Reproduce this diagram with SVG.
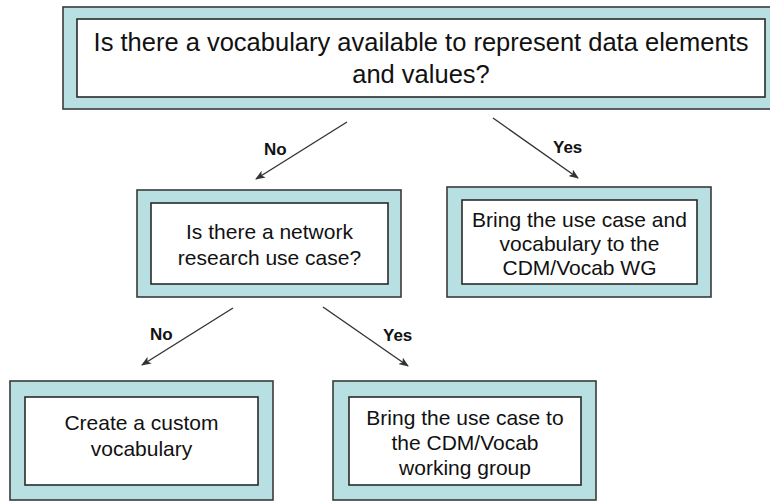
<svg xmlns="http://www.w3.org/2000/svg" width="770" height="502" viewBox="0 0 770 502">
<defs>
<style>
.outer{fill:#b8dfe1;stroke:#3a3a3a;stroke-width:1.6}
.inner{fill:#ffffff;stroke:#2a2a2a;stroke-width:1.6}
.t{font-family:"Liberation Sans",Arial,Helvetica,sans-serif;fill:#111;text-anchor:middle}
.lbl{font-family:"Liberation Sans",Arial,Helvetica,sans-serif;font-weight:bold;font-size:17px;fill:#111}
.conn{stroke:#333;stroke-width:1.4;fill:none;marker-end:url(#ah)}
</style>
<marker id="ah" viewBox="0 0 10 8" refX="9" refY="4" markerWidth="10" markerHeight="8" markerUnits="userSpaceOnUse" orient="auto">
<path d="M0,0 L10,4 L0,8 L2.5,4 Z" fill="#333"/>
</marker>
</defs>
<rect width="770" height="502" fill="#ffffff"/>
<g id="connectors">
<line class="conn" x1="347" y1="122" x2="256" y2="179"/>
<line class="conn" x1="493" y1="118" x2="578" y2="178"/>
<line class="conn" x1="233" y1="308" x2="142" y2="365"/>
<line class="conn" x1="323" y1="307" x2="408" y2="366"/>
<text class="lbl" x="264" y="155">No</text>
<text class="lbl" x="553" y="153">Yes</text>
<text class="lbl" x="150" y="340">No</text>
<text class="lbl" x="383" y="341">Yes</text>
</g>
<g id="q1">
<rect class="outer" x="63" y="7" width="717" height="102"/>
<rect class="inner" x="77" y="19" width="688" height="78"/>
<text class="t" font-size="25.5" x="421" y="51">Is there a vocabulary available to represent data elements</text>
<text class="t" font-size="25.5" x="421" y="83">and values?</text>
</g>
<g id="q2">
<rect class="outer" x="137" y="190" width="264" height="107"/>
<rect class="inner" x="151" y="203" width="237" height="81"/>
<text class="t" font-size="21" x="269.5" y="239">Is there a network</text>
<text class="t" font-size="21" x="269.5" y="265">research use case?</text>
</g>
<g id="a1">
<rect class="outer" x="447" y="187" width="264" height="110"/>
<rect class="inner" x="462" y="200" width="235" height="84"/>
<text class="t" font-size="21" x="579.5" y="227">Bring the use case and</text>
<text class="t" font-size="21" x="579.5" y="251">vocabulary to the</text>
<text class="t" font-size="21" x="579.5" y="275">CDM/Vocab WG</text>
</g>
<g id="a2">
<rect class="outer" x="10" y="381" width="263" height="119"/>
<rect class="inner" x="25" y="397" width="233" height="88"/>
<text class="t" font-size="21" x="141.5" y="430">Create a custom</text>
<text class="t" font-size="21" x="141.5" y="456">vocabulary</text>
</g>
<g id="a3">
<rect class="outer" x="333" y="381" width="263" height="119"/>
<rect class="inner" x="349" y="397" width="232" height="88"/>
<text class="t" font-size="21" x="465" y="425">Bring the use case to</text>
<text class="t" font-size="21" x="465" y="450">the CDM/Vocab</text>
<text class="t" font-size="21" x="465" y="475">working group</text>
</g>
</svg>
